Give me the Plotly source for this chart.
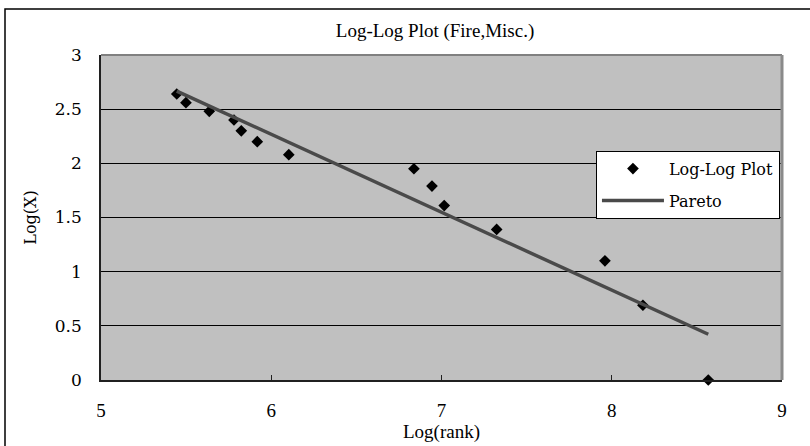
import plotly.graph_objects as go

# Data
log_rank = [5.445, 5.499, 5.636, 5.781, 5.824, 5.918, 6.103, 6.838, 6.944, 7.016, 7.324, 7.960, 8.183, 8.567]
log_x = [2.64, 2.56, 2.48, 2.40, 2.30, 2.20, 2.08, 1.95, 1.79, 1.61, 1.39, 1.10, 0.69, 0.00]
pareto_x = [5.445, 8.567]
pareto_y = [2.667, 0.422]

x_ticks = [5, 6, 7, 8, 9]
y_ticks = [0, 0.5, 1, 1.5, 2, 2.5, 3]

fig = go.Figure()
fig.add_trace(go.Scatter(
    x=log_rank, y=log_x, mode="markers", name="Log-Log Plot",
    marker=dict(symbol="diamond", size=9, color="black"),
    legendgroup="a", cliponaxis=False,
))
fig.add_trace(go.Scatter(
    x=pareto_x, y=pareto_y, mode="lines", name="Pareto",
    line=dict(color="#4a4a4a", width=3.5),
    legendgroup="b",
))

serif_wide = "DejaVu Serif, Liberation Serif, serif"
serif_narrow = "Liberation Serif, serif"

fig.update_layout(
    width=810, height=446,
    margin=dict(l=101, r=28, t=55, b=66),
    paper_bgcolor="white",
    plot_bgcolor="#c0c0c0",
    title=dict(text="Log-Log Plot (Fire,Misc.)", x=(435 / 810), xanchor="center",
               y=1 - 30 / 446, yanchor="middle",
               font=dict(family=serif_narrow, size=19, color="black")),
    showlegend=True,
    legend=dict(
        x=0.997, xanchor="right", y=0.7055, yanchor="top",
        bgcolor="white", bordercolor="black", borderwidth=1,
        font=dict(family=serif_wide, size=16, color="black"),
        traceorder="grouped", tracegroupgap=8, itemwidth=62,
    ),
    xaxis=dict(
        range=[5, 9], tickvals=x_ticks, ticktext=[str(v) for v in x_ticks],
        showgrid=False, zeroline=False, automargin=False,
        showline=True, linecolor="#202020", linewidth=1.5, mirror=False,
        ticks="inside", ticklen=5, tickcolor="#202020", tickwidth=1,
        ticklabelstandoff=12,
        tickfont=dict(family=serif_narrow, size=19, color="black"),
        title=dict(text="Log(rank)", font=dict(family=serif_narrow, size=19, color="black"), standoff=4),
    ),
    yaxis=dict(
        range=[0, 3], tickvals=y_ticks, ticktext=["0", "0.5", "1", "1.5", "2", "2.5", "3"],
        showgrid=True, gridcolor="#000000", gridwidth=1,
        zeroline=False, automargin=False,
        showline=True, linecolor="#202020", linewidth=1.5,
        ticks="", ticklabelstandoff=14,
        tickfont=dict(family=serif_wide, size=17, color="black"),
        title=dict(text="Log(X)", font=dict(family=serif_wide, size=16, color="black"), standoff=14),
    ),
    shapes=[
        # top and right plot border (grey)
        dict(type="line", xref="paper", yref="paper", x0=0, x1=1, y0=1, y1=1,
             line=dict(color="#808080", width=2)),
        dict(type="line", xref="paper", yref="paper", x0=1, x1=1, y0=0, y1=1,
             line=dict(color="#8a8a8a", width=3)),
        # outer chart frame
        dict(type="rect", xref="paper", yref="paper",
             x0=(5 - 101) / 681, x1=1.2, y0=-0.4, y1=(380 - 9) / 325,
             line=dict(color="black", width=1.5), fillcolor="rgba(0,0,0,0)", layer="below"),
    ],
)

fig.write_html("out.html")
